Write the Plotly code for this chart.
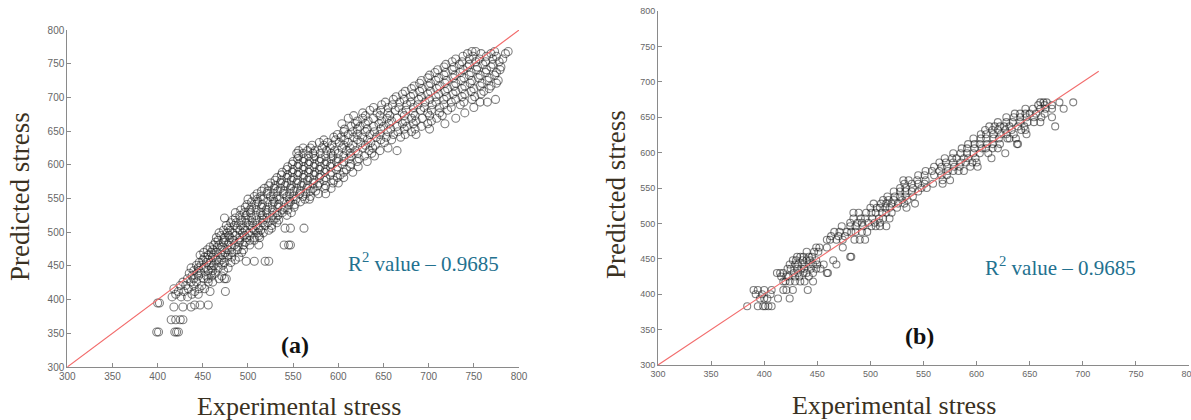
import plotly.graph_objects as go

# ---------------- data: panel (a) ----------------
rows_a = {
    352: [399, 401, 419, 421, 423],
    370: [415, 420, 425, 428],
    389: [418, 428, 437],
    392: [441, 447, 456],
    395: [400, 402],
    404: [416, 426, 433],
    408: [420, 438, 445],
    412: [423, 429, 441, 458, 475],
    416: [418, 434, 446, 452],
    421: [425, 431, 440, 449],
    426: [428, 437, 443, 456, 461],
    431: [433, 440, 451, 456, 468, 474, 476],
    435: [438, 445, 454, 460, 471],
    439: [435, 444, 448, 459, 464],
    443: [440, 446, 456, 461, 473],
    447: [437, 445, 451, 460, 467, 478],
    451: [443, 448, 457, 462, 472],
    455: [446, 454, 459, 468, 474, 481],
    457: [498, 507, 519, 523],
    459: [450, 456, 465, 471, 486],
    463: [452, 461, 467, 477, 482, 490],
    466: [447, 456, 462, 472, 478],
    470: [451, 459, 465, 475, 482, 493],
    474: [455, 461, 471, 477, 488, 495],
    478: [458, 466, 472, 482, 489],
    481: [462, 468, 478, 485, 495, 502, 512, 540, 545, 547],
    485: [464, 473, 479, 490, 497],
    488: [467, 474, 484, 491, 502, 507],
    492: [465, 474, 480, 491, 498, 507, 513],
    495: [470, 479, 486, 496, 502, 512],
    499: [468, 477, 483, 494, 501, 511, 517],
    503: [473, 480, 491, 497, 507, 514, 523],
    506: [478, 488, 495, 505, 512, 526, 541, 547, 562],
    510: [476, 485, 492, 502, 509, 519, 526],
    514: [481, 487, 498, 505, 516, 522, 532],
    518: [483, 493, 500, 510, 517, 528, 534],
    521: [474, 486, 497, 504, 515, 521, 531],
    525: [491, 498, 509, 516, 527, 533, 543],
    529: [486, 496, 503, 514, 521, 532, 538, 548],
    533: [492, 502, 509, 520, 527, 538, 544],
    537: [497, 504, 515, 522, 533, 540, 551],
    541: [499, 509, 516, 527, 534, 545, 552],
    545: [504, 511, 522, 529, 540, 547, 558],
    549: [500, 510, 517, 528, 535, 546, 553, 563, 568],
    553: [507, 514, 525, 532, 543, 550, 561, 569],
    557: [510, 521, 528, 539, 546, 557, 564, 578, 586],
    561: [515, 522, 533, 540, 551, 558, 569, 575],
    565: [518, 529, 536, 547, 554, 565, 572, 585, 592],
    569: [523, 530, 541, 548, 559, 566, 577, 586],
    573: [525, 536, 543, 554, 561, 572, 579, 594, 600],
    577: [530, 537, 548, 555, 566, 573, 584, 595],
    581: [532, 543, 550, 561, 568, 579, 586, 599, 606],
    585: [537, 544, 555, 562, 573, 580, 591, 602],
    589: [538, 549, 556, 567, 574, 585, 592, 606, 616],
    593: [543, 550, 561, 568, 579, 586, 598, 609],
    597: [544, 555, 562, 573, 580, 591, 599, 613, 622],
    601: [549, 556, 567, 574, 585, 592, 604, 614],
    605: [550, 561, 568, 579, 587, 598, 606, 621, 632],
    609: [555, 562, 573, 581, 592, 600, 612, 623],
    613: [556, 567, 574, 586, 594, 606, 614, 629, 640],
    617: [554, 561, 572, 580, 592, 600, 613, 622, 637],
    621: [556, 566, 574, 587, 596, 609, 619, 634, 646, 665],
    625: [561, 569, 582, 591, 604, 613, 627, 638, 655],
    629: [571, 584, 593, 606, 616, 630, 641],
    633: [579, 588, 601, 611, 625, 636, 651],
    637: [584, 597, 607, 621, 632, 647, 659],
    641: [595, 603, 617, 627, 642, 653, 669],
    645: [599, 611, 621, 635, 646, 661, 674, 686],
    649: [606, 616, 630, 640, 655, 666, 681],
    653: [607, 621, 632, 647, 658, 673, 685, 701],
    657: [614, 624, 639, 650, 665, 676, 692],
    661: [604, 619, 630, 645, 656, 671, 683, 699, 718],
    665: [621, 633, 648, 659, 674, 686, 703],
    669: [611, 627, 639, 654, 665, 681, 693, 709, 730],
    673: [617, 630, 646, 657, 673, 685, 701, 715],
    677: [627, 643, 655, 671, 683, 699, 712, 740],
    681: [635, 647, 663, 675, 691, 703, 721],
    685: [639, 655, 667, 683, 695, 712, 725, 750],
    689: [648, 660, 676, 688, 704, 717, 735],
    693: [652, 668, 680, 696, 708, 725, 739, 757, 765],
    697: [661, 673, 689, 701, 717, 730, 748, 774],
    701: [664, 680, 692, 708, 720, 737, 751],
    705: [671, 683, 699, 711, 727, 740, 758],
    709: [674, 690, 702, 718, 730, 747, 761],
    713: [681, 693, 709, 721, 737, 750, 767],
    717: [684, 700, 712, 728, 740, 757, 769],
    721: [690, 702, 718, 730, 746, 759, 775],
    725: [692, 708, 720, 736, 748, 765, 777],
    729: [699, 711, 727, 739, 755, 767],
    733: [701, 717, 729, 745, 757, 773],
    737: [707, 719, 735, 747, 763, 775],
    741: [710, 726, 738, 753, 764, 779],
    745: [717, 728, 743, 754, 769, 780],
    749: [719, 734, 745, 760, 771],
    753: [726, 737, 752, 763, 778],
    757: [730, 745, 756, 771, 782],
    761: [738, 749, 764, 775],
    765: [743, 758, 769, 785],
    768: [748, 752, 773, 788],
}

# ---------------- data: panel (b) ----------------
rows_b = {
    383: [384, 394, 399, 401, 404, 407],
    394: [396, 400, 403, 413, 424],
    400: [392, 398, 406],
    406: [390, 394, 400, 407, 418, 421, 427, 441],
    418: [418, 420, 424, 429, 434, 438, 446],
    425: [416, 421, 423, 429, 433, 442],
    430: [412, 415, 418, 428, 432, 437, 440, 446, 459, 460],
    436: [422, 425, 431, 435, 438, 444, 449, 453],
    442: [424, 429, 432, 437, 442, 446, 450, 456, 468],
    448: [427, 430, 436, 440, 443, 449, 465],
    453: [431, 434, 437, 442, 445, 481, 482],
    460: [440, 447, 451],
    466: [449, 452, 459, 474],
    477: [459, 462, 468, 474, 485, 490, 495],
    482: [463, 470, 476],
    488: [466, 471, 478, 482, 486, 492, 497],
    496: [473, 481, 486, 493, 501, 505, 509, 515],
    501: [481, 488, 492, 498, 504, 509],
    507: [484, 491, 495, 502, 508, 512, 518],
    515: [484, 489, 496, 501, 505, 511, 515, 520],
    522: [500, 506, 509, 514, 518, 525, 534],
    528: [503, 510, 515, 520, 526, 532, 542],
    533: [512, 517, 522, 530, 535],
    538: [516, 523, 528, 533, 540],
    545: [522, 528, 533, 539, 545],
    550: [528, 533, 540, 548, 553],
    556: [532, 539, 545, 551, 559, 568],
    561: [531, 536, 544, 552, 568, 575],
    568: [545, 551, 560, 567, 572],
    574: [552, 558, 565, 573, 578, 583, 588],
    580: [560, 567, 572, 579, 584, 594, 601],
    586: [565, 571, 578, 585, 590, 596, 600],
    592: [570, 577, 581, 588, 592, 599, 614],
    599: [578, 585, 591, 597, 603, 611, 627],
    606: [586, 591, 598, 605, 609, 615, 620],
    612: [592, 598, 603, 610, 615, 622, 638, 639],
    620: [597, 604, 609, 616, 621, 629, 631, 637],
    626: [604, 609, 616, 623, 628, 635, 647],
    632: [608, 615, 620, 627, 633, 642, 646],
    637: [612, 617, 622, 626, 631, 639, 645, 674],
    643: [620, 628, 634, 641, 648, 654, 660],
    650: [628, 635, 641, 647, 654, 661, 671],
    655: [636, 641, 646, 650, 656, 664],
    662: [646, 653, 660, 665, 671, 682],
    667: [658, 664, 671],
    671: [660, 663, 666, 678, 691],
}

ideal_a = [300, 800]
ideal_b = [300, 715]
tick_vals = [300, 350, 400, 450, 500, 550, 600, 650, 700, 750, 800]
tick_text = [str(v) for v in tick_vals]
r2_label = "R<sup>2</sup> value – 0.9685"


def flatten(rows):
    xs, ys = [], []
    for yv, xl in rows.items():
        for xv in xl:
            xs.append(xv)
            ys.append(yv)
    return xs, ys


xa, ya = flatten(rows_a)
xb, yb = flatten(rows_b)

fig = go.Figure()
ink = "rgba(25,25,25,0.55)"
marker_style = dict(symbol="circle-open", size=8, color=ink, line=dict(width=1.1, color=ink))

fig.add_trace(go.Scatter(x=xa, y=ya, mode="markers", marker=marker_style,
                         xaxis="x", yaxis="y", showlegend=False))
fig.add_trace(go.Scatter(x=ideal_a, y=ideal_a, mode="lines",
                         line=dict(color="#f26b6b", width=1.1),
                         xaxis="x", yaxis="y", showlegend=False))
marker_b = dict(marker_style)
marker_b["size"] = 7
fig.add_trace(go.Scatter(x=xb, y=yb, mode="markers", marker=marker_b,
                         xaxis="x2", yaxis="y2", showlegend=False))
fig.add_trace(go.Scatter(x=ideal_b, y=ideal_b, mode="lines",
                         line=dict(color="#f26b6b", width=1.1),
                         xaxis="x2", yaxis="y2", showlegend=False))

W, H = 1191, 420
axis_common = dict(
    range=[300, 800], tickmode="array", tickvals=tick_vals, ticktext=tick_text,
    showgrid=False, zeroline=False, showline=True, linecolor="#8a8a8a",
    linewidth=1, ticks="inside", ticklen=4, tickcolor="#8a8a8a", automargin=False,
    ticklabeloverflow="allow",
    tickfont=dict(family="Liberation Sans, Arial", size=10, color="#666666"),
)
narrow_font = dict(family="Liberation Sans Narrow, Liberation Sans", size=9, color="#666666")

fig.update_layout(
    width=W, height=H,
    margin=dict(l=0, r=0, t=0, b=0, autoexpand=False),
    paper_bgcolor="white", plot_bgcolor="white",
    hovermode=False,
    xaxis=dict(axis_common, domain=[67.3 / W, 519 / W], anchor="y"),
    yaxis=dict(axis_common, domain=[1 - 367 / H, 1 - 30 / H], anchor="x"),
    xaxis2=dict(axis_common, domain=[658 / W, 1189 / W], anchor="y2", tickfont=narrow_font),
    yaxis2=dict(axis_common, domain=[1 - 365 / H, 1 - 11 / H], anchor="x2", tickfont=narrow_font),
)

xt_font = dict(family="Liberation Serif, Times New Roman", size=26, color="#3a3122")
yt_font = dict(family="Liberation Serif, Times New Roman", size=27, color="#3a3122")
ann = []
ann.append(dict(text="Predicted stress", x=20 / W, y=1 - 197 / H, xref="paper", yref="paper",
                textangle=-90, showarrow=False, font=yt_font, xanchor="center", yanchor="middle"))
ann.append(dict(text="Experimental stress", x=299 / W, y=1 - 406 / H, xref="paper", yref="paper",
                showarrow=False, font=xt_font, xanchor="center", yanchor="middle"))
ann.append(dict(text="Predicted stress", x=616 / W, y=1 - 195 / H, xref="paper", yref="paper",
                textangle=-90, showarrow=False, font=yt_font, xanchor="center", yanchor="middle"))
ann.append(dict(text="Experimental stress", x=894 / W, y=1 - 405 / H, xref="paper", yref="paper",
                showarrow=False, font=xt_font, xanchor="center", yanchor="middle"))
r2_font = dict(family="Liberation Serif, Times New Roman", size=21, color="#23718f")
ann.append(dict(text=r2_label, x=423 / W, y=1 - 262 / H, xref="paper", yref="paper",
                showarrow=False, font=r2_font, xanchor="center", yanchor="middle"))
ann.append(dict(text=r2_label, x=1060 / W, y=1 - 266 / H, xref="paper", yref="paper",
                showarrow=False, font=r2_font, xanchor="center", yanchor="middle"))
lab_font = dict(family="Liberation Serif, Times New Roman", size=24, color="#111111")
ann.append(dict(text="<b>(a)</b>", x=295 / W, y=1 - 345 / H, xref="paper", yref="paper",
                showarrow=False, font=lab_font, xanchor="center", yanchor="middle"))
ann.append(dict(text="<b>(b)</b>", x=919 / W, y=1 - 336 / H, xref="paper", yref="paper",
                showarrow=False, font=lab_font, xanchor="center", yanchor="middle"))
fig.update_layout(annotations=ann)

fig.write_html("out.html", config={"displayModeBar": False},
               post_script="document.body.style.margin='0';document.body.style.overflow='hidden';")
